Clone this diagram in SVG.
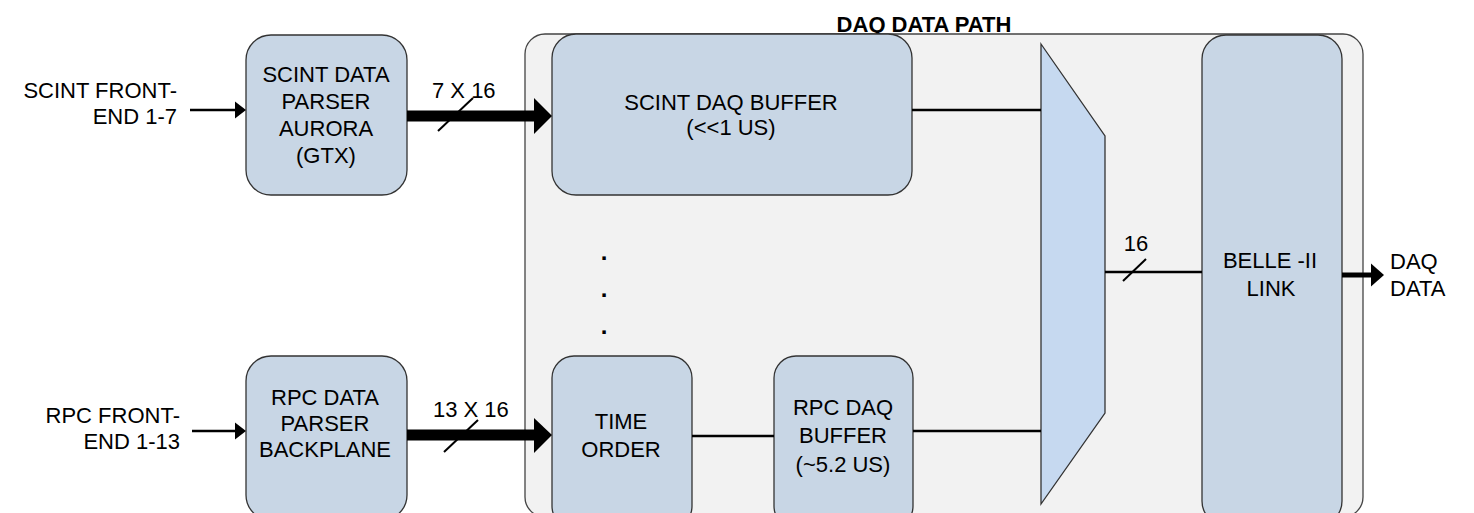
<svg xmlns="http://www.w3.org/2000/svg" width="1474" height="513" viewBox="0 0 1474 513">
  <style>
    .box { fill: #c8d6e5; stroke: #333; stroke-width: 1.3; }
    .frame { fill: #f2f2f2; stroke: #444; stroke-width: 1.3; }
    .mux { fill: #c6d9f0; stroke: #333; stroke-width: 1.3; }
    .wire { stroke: #000; stroke-width: 2.5; fill: none; }
    .bus { stroke: #000; stroke-width: 11; fill: none; }
    .slash { stroke: #000; stroke-width: 2; fill: none; }
    .head { fill: #000; stroke: none; }
    text { font-family: "Liberation Sans", Arial, sans-serif; font-size: 22px; fill: #000; }
    .c { text-anchor: middle; }
    .e { text-anchor: end; }
    .title { font-weight: bold; }
    .dot { font-weight: bold; font-size: 24px; }
  </style>

  <rect width="1474" height="513" fill="#ffffff"/>

  <!-- DAQ data path container -->
  <g id="daq-data-path">
    <rect class="frame" x="525" y="34" width="838" height="483" rx="20" ry="20"/>
    <text class="c title" x="924" y="32">DAQ DATA PATH</text>
  </g>

  <!-- Input labels -->
  <g id="scint-frontend">
    <text class="e" x="177" y="98">SCINT FRONT-</text>
    <text class="e" x="177" y="124">END 1-7</text>
  </g>
  <g id="rpc-frontend">
    <text class="e" x="180" y="423">RPC FRONT-</text>
    <text class="e" x="180" y="449">END 1-13</text>
  </g>

  <!-- Parsers -->
  <g id="scint-parser">
    <rect class="box" x="246" y="35" width="161" height="160" rx="25" ry="25"/>
    <text class="c" x="326" y="82">SCINT DATA</text>
    <text class="c" x="326" y="109">PARSER</text>
    <text class="c" x="326" y="136">AURORA</text>
    <text class="c" x="326" y="163">(GTX)</text>
  </g>
  <g id="rpc-parser">
    <rect class="box" x="246" y="356" width="161" height="164" rx="25" ry="25"/>
    <text class="c" x="325" y="405">RPC DATA</text>
    <text class="c" x="325" y="431">PARSER</text>
    <text class="c" x="325" y="457">BACKPLANE</text>
  </g>

  <!-- Buffers -->
  <g id="scint-daq-buffer">
    <rect class="box" x="552" y="34" width="360" height="161" rx="24" ry="24"/>
    <text class="c" x="731" y="110">SCINT DAQ BUFFER</text>
    <text class="c" x="731" y="135">(&lt;&lt;1 US)</text>
  </g>
  <g id="time-order">
    <rect class="box" x="552" y="356" width="140" height="172" rx="22" ry="22"/>
    <text class="c" x="621" y="429">TIME</text>
    <text class="c" x="621" y="457">ORDER</text>
  </g>
  <g id="rpc-daq-buffer">
    <rect class="box" x="774" y="356" width="139" height="172" rx="22" ry="22"/>
    <text class="c" x="843" y="415">RPC DAQ</text>
    <text class="c" x="843" y="443">BUFFER</text>
    <text class="c" x="843" y="472">(~5.2 US)</text>
  </g>

  <!-- Ellipsis between channels -->
  <g id="ellipsis">
    <text class="c dot" x="604" y="260">.</text>
    <text class="c dot" x="604" y="297">.</text>
    <text class="c dot" x="604" y="334">.</text>
  </g>

  <!-- Multiplexer -->
  <g id="mux">
    <polygon class="mux" points="1041,44 1105,136 1105,413 1041,504"/>
  </g>

  <!-- Belle-II link -->
  <g id="belle-ii-link">
    <rect class="box" x="1202" y="35" width="140" height="490" rx="24" ry="24"/>
    <text class="c" x="1270" y="268">BELLE -II</text>
    <text class="c" x="1271" y="296">LINK</text>
  </g>

  <!-- Output label -->
  <g id="daq-data-out">
    <text x="1390" y="269">DAQ</text>
    <text x="1390" y="296">DATA</text>
  </g>

  <!-- Connectors -->
  <g id="connectors">
    <!-- front-end inputs -->
    <line class="wire" x1="190" y1="110" x2="236" y2="110"/>
    <polygon class="head" points="235,101.5 246,110 235,118.5"/>
    <line class="wire" x1="192" y1="431" x2="236" y2="431"/>
    <polygon class="head" points="235,422.5 246,431 235,439.5"/>

    <!-- scint bus 7 x 16 -->
    <line class="bus" x1="407" y1="116" x2="535" y2="116"/>
    <polygon class="head" points="534,98 552,116 534,134"/>
    <line class="slash" x1="438" y1="131" x2="473" y2="98"/>
    <text x="432" y="98">7 X 16</text>

    <!-- rpc bus 13 x 16 -->
    <line class="bus" x1="407" y1="435" x2="535" y2="435"/>
    <polygon class="head" points="534,418 552,435 534,453"/>
    <line class="slash" x1="444" y1="452" x2="478" y2="420"/>
    <text x="433" y="417">13 X 16</text>

    <!-- internal paths -->
    <line class="wire" x1="912" y1="110" x2="1041" y2="110"/>
    <line class="wire" x1="692" y1="436" x2="774" y2="436"/>
    <line class="wire" x1="913" y1="431" x2="1041" y2="431"/>

    <!-- mux to link, 16 bits -->
    <line class="wire" x1="1105" y1="272" x2="1202" y2="272"/>
    <line class="slash" x1="1123" y1="281" x2="1146" y2="259"/>
    <text class="c" x="1136" y="251">16</text>

    <!-- link output -->
    <line stroke="#000" stroke-width="5" x1="1342" y1="275" x2="1372" y2="275"/>
    <polygon class="head" points="1371,263.5 1384,275 1371,286.5"/>
  </g>
</svg>
